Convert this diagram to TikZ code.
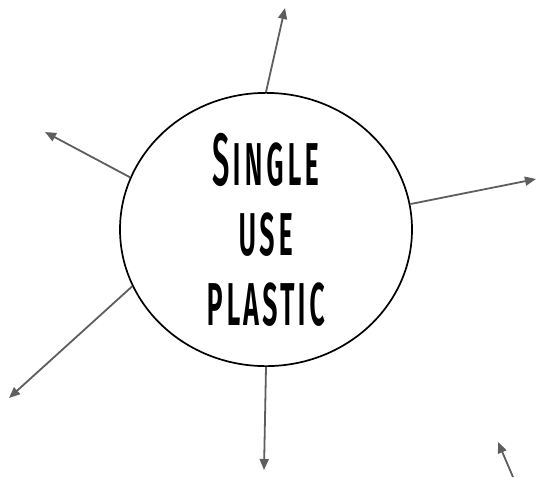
\documentclass[tikz,border=0pt]{standalone}
\usepackage{fontspec}
\setmainfont{Fira Sans}
\newfontfamily\plasticfont{Fira Sans Medium}[FakeStretch=0.42,LetterSpace=4]
\usetikzlibrary{arrows.meta,shapes.geometric}
\definecolor{arrowgray}{HTML}{5E5E5E}

\begin{document}
\begin{tikzpicture}[x=1pt, y=-1pt,
  hub/.style={draw, ellipse, line width=1.7pt, inner sep=0pt,
              minimum width=292pt, minimum height=265pt, align=center,
              font=\plasticfont\scshape\fontsize{74}{70}\selectfont},
  arrow/.style={-{Triangle[length=11pt,width=9pt]}, line width=1.8pt, draw=arrowgray, fill=arrowgray}
]
\useasboundingbox (0,0) rectangle (537,477);

\node[hub] (plastic) at (266,229.5) {Single\\use\\plastic};

\coordinate (tipN) at (285,8);
\coordinate (tipNW) at (45,132);
\coordinate (tipE) at (536,179);
\coordinate (tipSW) at (9,398);
\coordinate (tipS) at (264,470);
\coordinate (stubtail) at (513,477);
\coordinate (stubtip) at (498,442);

\draw[arrow] (plastic.90) -- (tipN);
\draw[arrow] (plastic.159) -- (tipNW);
\draw[arrow] (plastic.10) -- (tipE);
\draw[arrow] (plastic.203) -- (tipSW);
\draw[arrow] (plastic.270) -- (tipS);
\draw[arrow] (stubtail) -- (stubtip);
\end{tikzpicture}
\end{document}
